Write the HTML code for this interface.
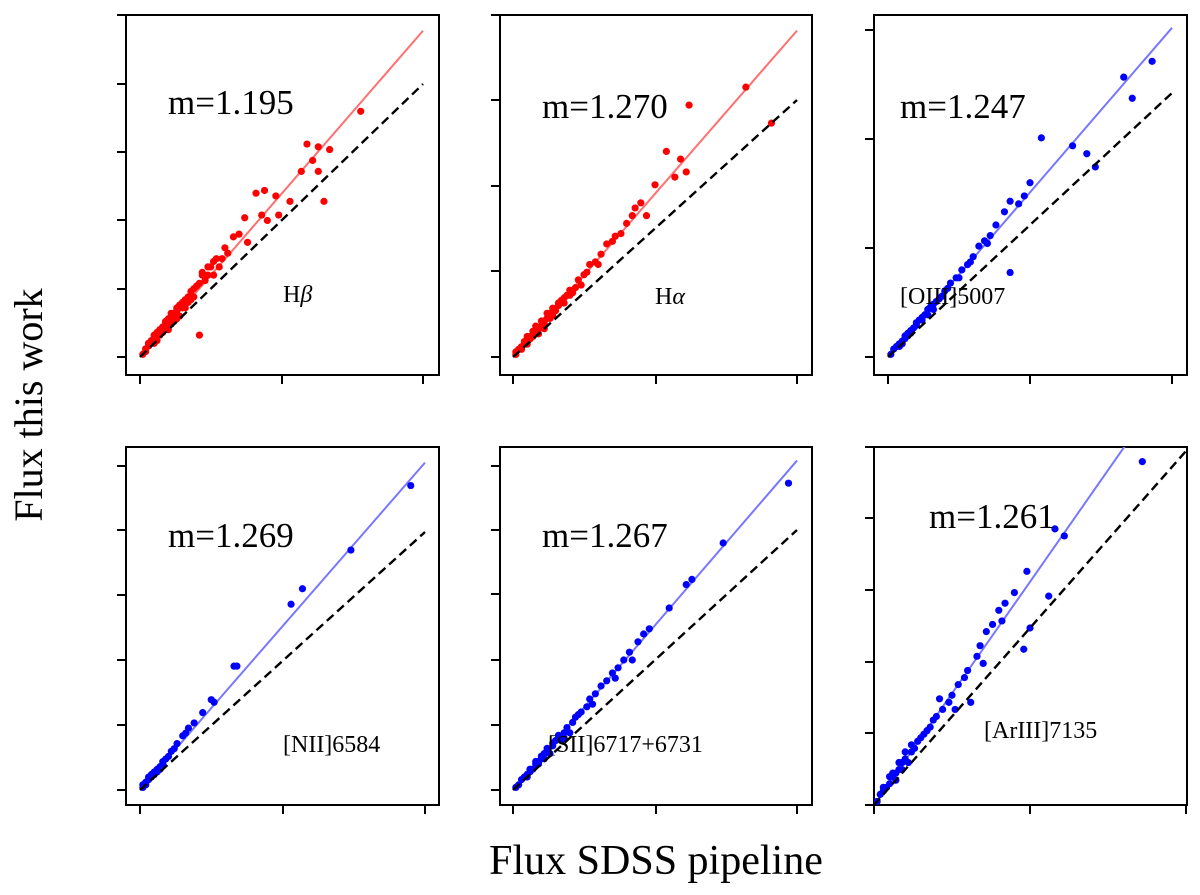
<!DOCTYPE html>
<html><head><meta charset="utf-8"><style>
body{margin:0;background:#fff}
svg{display:block}
text{font-family:"Liberation Serif",serif;fill:#000}
</style></head><body>
<svg id="c" width="1200" height="895"></svg>
<script>
// data arrays ([x,y] in normalized flux units)
const hbPts=[[.78,.90],[.59,.78],[.63,.77],[.67,.76],[.61,.72],[.63,.68],[.57,.68],[.41,.60],[.44,.61],[.48,.59],[.53,.57],[.65,.57],[.49,.52],[.37,.51],[.43,.52],[.45,.50],[.33,.44],[.38,.42],[.30,.40],[.27,.36],[.25,.33],[.22,.30],[.23,.28],[.20,.26],[.18,.24],[.19,.22],[.16,.21],[.15,.18],[.13,.17],[.14,.15],[.12,.15],[.10,.13],[.11,.12],[.09,.11],[.08,.10],[.07,.09],[.06,.08],[.05,.07],[.05,.05],[.04,.05],[.03,.04],[.02,.03],[.02,.02],[.01,.01],[.21,.08],[.17,.20],[.26,.30],[.29,.36],[.31,.38],[.35,.45],[.12,.13],[.09,.12],[.07,.08],[.24,.30],[.28,.33],[.14,.19],[.17,.22],[.10,.10],[.04,.06],[.06,.06],[.08,.09],[.11,.14],[.21,.27],[.19,.25],[.16,.18],[.13,.14],[.15,.20],[.12,.16],[.10,.14],[.08,.11],[.06,.09],[.03,.05],[.05,.08],[.07,.10],[.09,.13],[.11,.16],[.13,.18],[.18,.21],[.22,.31],[.24,.33],[.26,.35]];
const haPts=[[.82,1.05],[.91,.91],[.62,.98],[.59,.77],[.54,.80],[.61,.72],[.57,.70],[.50,.67],[.45,.60],[.43,.58],[.47,.55],[.40,.52],[.38,.48],[.35,.45],[.33,.44],[.31,.40],[.29,.37],[.27,.36],[.25,.32],[.23,.30],[.22,.27],[.20,.26],[.19,.24],[.17,.22],[.16,.20],[.15,.18],[.13,.17],[.12,.15],[.11,.13],[.10,.12],[.09,.11],[.08,.10],[.07,.08],[.06,.07],[.05,.06],[.04,.05],[.03,.04],[.02,.03],[.01,.02],[.01,.01],[.14,.16],[.18,.21],[.21,.25],[.24,.28],[.26,.33],[.30,.36],[.36,.47],[.42,.55],[.05,.05],[.08,.09],[.11,.14],[.13,.15],[.03,.03],[.06,.08],[.12,.17],[.10,.14],[.08,.12],[.07,.10],[.05,.08],[.04,.06],[.14,.19],[.16,.21],[.18,.23],[.20,.24],[.09,.09],[.11,.11]];
const oiiiPts=[[.93,1.12],[.83,1.06],[.86,.98],[.54,.83],[.65,.80],[.70,.77],[.73,.72],[.50,.66],[.48,.61],[.43,.59],[.41,.55],[.38,.50],[.36,.46],[.34,.44],[.32,.42],[.30,.38],[.28,.35],[.26,.33],[.24,.30],[.22,.28],[.20,.25],[.19,.23],[.17,.21],[.16,.20],[.14,.18],[.13,.16],[.11,.14],[.10,.12],[.09,.11],[.08,.10],[.07,.08],[.06,.07],[.05,.06],[.04,.05],[.03,.04],[.02,.03],[.01,.01],[.43,.32],[.29,.36],[.25,.30],[.21,.26],[.15,.19],[.12,.14],[.35,.43],[.46,.58],[.05,.05],[.08,.09],[.18,.22],[.10,.13],[.07,.09],[.12,.15],[.14,.16],[.16,.18],[.04,.04],[.06,.08]];
const niiPts=[[.95,1.18],[.74,.93],[.57,.78],[.53,.72],[.34,.48],[.33,.48],[.26,.34],[.25,.35],[.22,.30],[.19,.26],[.17,.24],[.16,.22],[.15,.21],[.13,.18],[.12,.16],[.11,.15],[.10,.13],[.09,.12],[.08,.11],[.07,.09],[.06,.08],[.05,.07],[.04,.06],[.03,.04],[.02,.03],[.01,.02],[.01,.01],[.08,.10],[.06,.07],[.04,.05],[.03,.05],[.05,.06],[.07,.08],[.02,.02]];
const siiPts=[[.97,1.18],[.74,.95],[.61,.79],[.63,.81],[.55,.70],[.48,.62],[.46,.60],[.44,.57],[.41,.53],[.39,.50],[.37,.47],[.35,.45],[.33,.42],[.31,.40],[.29,.37],[.27,.35],[.26,.32],[.24,.30],[.22,.28],[.21,.26],[.19,.24],[.18,.22],[.16,.20],[.15,.19],[.14,.17],[.12,.15],[.11,.14],[.10,.12],[.09,.11],[.08,.10],[.07,.08],[.06,.07],[.05,.06],[.04,.05],[.03,.04],[.02,.02],[.01,.01],[.20,.22],[.17,.19],[.13,.14],[.28,.33],[.36,.43],[.42,.50],[.23,.29],[.10,.13],[.12,.16],[.14,.18],[.16,.21],[.18,.20],[.08,.11],[.06,.08],[.05,.05],[.09,.10],[.11,.12]];
const arPts=[[.86,.97],[.58,.78],[.61,.76],[.49,.66],[.56,.59],[.50,.50],[.48,.44],[.45,.60],[.42,.57],[.40,.55],[.41,.52],[.38,.51],[.36,.49],[.34,.45],[.33,.42],[.30,.38],[.29,.36],[.27,.34],[.25,.31],[.24,.29],[.22,.27],[.20,.25],[.19,.24],[.17,.21],[.16,.20],[.14,.18],[.13,.16],[.12,.15],[.10,.13],[.09,.12],[.08,.10],[.07,.09],[.06,.08],[.05,.06],[.04,.05],[.03,.04],[.02,.03],[.01,.01],[.31,.29],[.26,.27],[.35,.40],[.21,.30],[.11,.12],[.07,.07],[.10,.15],[.12,.17],[.08,.12],[.06,.09],[.05,.08],[.15,.19],[.18,.22],[.03,.05],[.09,.10]];
const slopes=[1.195,1.270,1.247,1.269,1.267,1.261];
const lineLabels=["Hβ","Hα","[OIII]5007","[NII]6584","[SII]6717+6731","[ArIII]7135"];
const allPts=[hbPts,haPts,oiiiPts,niiPts,siiPts,arPts];

const panels=[
 {L:126,T:15,R:439,B:375,x0:140,x1:423,y0:357,y1:84,yt:[357,289,220,152,84,15],xt:[140,282,423],c:'#ff0000',lc:'#ff7070',mx:168,my:114,lx:283,ly:302},
 {L:500,T:15,R:812,B:375,x0:513,x1:797,y0:357,y1:100,yt:[357,271,186,100,15],xt:[513,656,797],c:'#ff0000',lc:'#ff7070',mx:542,my:118,lx:655,ly:304},
 {L:874,T:15,R:1187,B:375,x0:888,x1:1172,y0:357,y1:93,yt:[357,248,139,30],xt:[888,1030,1172],c:'#0000ff',lc:'#7777ff',mx:900,my:118,lx:900,ly:304},
 {L:126,T:447,R:439,B:805,x0:140,x1:425,y0:790,y1:532,yt:[790,725,660,595,530,466],xt:[140,283,425],c:'#0000ff',lc:'#7777ff',mx:168,my:547,lx:283,ly:752},
 {L:500,T:447,R:812,B:805,x0:513,x1:797,y0:790,y1:530,yt:[790,725,660,594,530,466],xt:[513,656,797],c:'#0000ff',lc:'#7777ff',mx:542,my:547,lx:548,ly:752},
 {L:874,T:447,R:1187,B:805,x0:874,x1:1186,y0:805,y1:451,yt:[805,733,662,590,518,447],xt:[874,1030,1186],c:'#0000ff',lc:'#7777ff',mx:929,my:528,lx:984,ly:738}
];
const svg=document.getElementById('c');const NS='http://www.w3.org/2000/svg';
function mk(t,a,p){const e=document.createElementNS(NS,t);for(const k in a)e.setAttribute(k,a[k]);(p||svg).appendChild(e);return e;}
panels.forEach((p,i)=>{
 const g=mk('g',{});
 
 
 const sx=v=>p.x0+v*(p.x1-p.x0), sy=v=>p.y0-v*(p.y0-p.y1);
 const cp=mk('clipPath',{id:'cp'+i},g);mk('rect',{x:p.L,y:p.T,width:p.R-p.L,height:p.B-p.T},cp);
 const fr=mk('rect',{x:p.L,y:p.T,width:p.R-p.L,height:p.B-p.T,fill:'none',stroke:'#000','stroke-width':2},g);
 
 
 p.yt.forEach(y=>{const t=mk('line',{x1:p.L-9,x2:p.L,y1:y,y2:y,stroke:'#000','stroke-width':2},g);
  
  });
 p.xt.forEach(x=>{const t=mk('line',{x1:x,x2:x,y1:p.B,y2:p.B+9,stroke:'#000','stroke-width':2},g);
  
  });
 const inner=mk('g',{'clip-path':'url(#cp'+i+')'},g);
 const fit=mk('line',{x1:sx(0),y1:sy(0),x2:sx(1),y2:sy(slopes[i]),stroke:p.lc,'stroke-width':2},inner);
 
 
 allPts[i].forEach(d=>{const c=mk('circle',{cx:sx(d[0]),cy:sy(d[1]),r:3.6,fill:p.c},inner);
  
  });
 const dl=mk('line',{x1:sx(0),y1:sy(0),x2:sx(1),y2:sy(1),stroke:'#000','stroke-width':2.4,'stroke-dasharray':'9,5'},inner);
 
 
 const mt=mk('text',{x:p.mx,y:p.my,'font-size':35},g);mt.textContent='m='+slopes[i].toFixed(3);
 
 
 const lt=mk('text',{x:p.lx,y:p.ly,'font-size':24},g);
 if(i<2){lt.textContent='H';const ts=mk('tspan',{'font-style':'italic'},lt);ts.textContent=i==0?'β':'α';}
 else lt.textContent=lineLabels[i];
 
 
});
const yl=mk('text',{x:0,y:0,'font-size':40,'text-anchor':'middle',transform:'translate(42,405) rotate(-90)'});
yl.textContent='Flux this work';


const xl=mk('text',{x:656,y:874,'font-size':42,'text-anchor':'middle'});
xl.textContent='Flux SDSS pipeline';


</script>
</body></html>
